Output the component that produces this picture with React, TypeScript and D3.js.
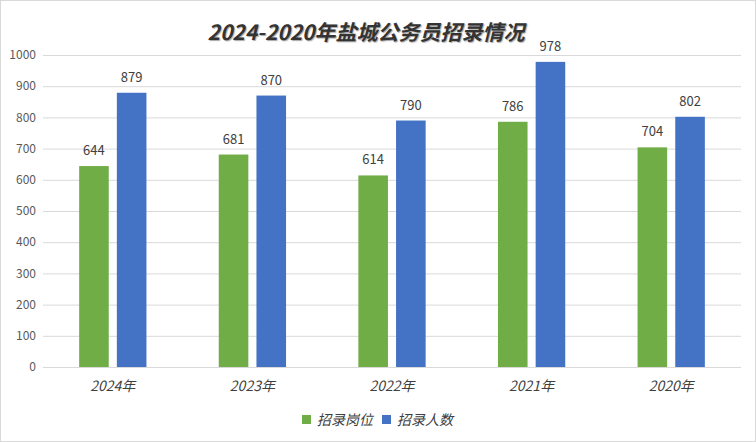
import React from "react";
import * as d3 from "d3";

const categories = ["2024年", "2023年", "2022年", "2021年", "2020年"];
const seriesNames = ["招录岗位", "招录人数"];
const posts = [644, 681, 614, 786, 704];
const people = [879, 870, 790, 978, 802];
const yTicks = [0, 100, 200, 300, 400, 500, 600, 700, 800, 900, 1000];
const colors = ["#70AD47", "#4472C4"];
const title = "2024-2020年盐城公务员招录情况";

const W = 756;
const H = 442;
const FONT = "'Noto Sans CJK SC', 'Noto Sans', sans-serif";

export default function App() {
  const left = 43;
  const right = 741;
  const top = 55;
  const bottom = 367;

  const x = d3.scaleBand<string>().domain(categories).range([left, right]).padding(0);
  const bw = x.bandwidth();
  const inner = d3
    .scaleBand<number>()
    .domain([0, 1])
    .range([bw / 2 - bw * 0.241, bw / 2 + bw * 0.241])
    .paddingInner(0.215)
    .paddingOuter(0);
  const y = d3.scaleLinear().domain([0, 1000]).range([bottom, top]);
  const series = [posts, people];

  return (
    <div style={{ position: "fixed", left: 0, top: 0 }}>
      <svg width={W} height={H} style={{ display: "block", background: "#fff" }}>
        <rect x={0.5} y={0.5} width={W - 1} height={H - 1} fill="#fff" stroke="#d9d9d9" />
        <text
          x={366}
          y={40}
          textAnchor="middle"
          fontFamily={FONT}
          fontSize={21}
          fontWeight="bold"
          fontStyle="italic"
          fill="#333"
          style={{ textShadow: "1px 1px 1px rgba(0,0,0,0.35)" }}
        >
          {title}
        </text>
        {yTicks.map((t) => (
          <g key={t}>
            <line x1={left} x2={right} y1={y(t) + 0.5} y2={y(t) + 0.5} stroke="#d9d9d9" strokeWidth={1} />
            <text
              x={36}
              y={y(t)}
              dy="0.35em"
              textAnchor="end"
              fontFamily={FONT}
              fontSize={12}
              fill="#595959"
            >
              {t}
            </text>
          </g>
        ))}
        {categories.map((c, i) => (
          <g key={c} transform={`translate(${x(c)},0)`}>
            {series.map((s, j) => (
              <g key={j}>
                <rect
                  x={inner(j)}
                  y={y(s[i])}
                  width={inner.bandwidth()}
                  height={bottom - y(s[i])}
                  fill={colors[j]}
                />
                <text
                  x={(inner(j) as number) + inner.bandwidth() / 2}
                  y={y(s[i]) - 11}
                  textAnchor="middle"
                  fontFamily={FONT}
                  fontSize={13}
                  fill="#404040"
                >
                  {s[i]}
                </text>
              </g>
            ))}
            <text
              x={bw / 2}
              y={391}
              textAnchor="middle"
              fontFamily={FONT}
              fontSize={14}
              fontStyle="italic"
              fill="#404040"
            >
              {c}
            </text>
          </g>
        ))}
        <line x1={left} x2={right} y1={bottom + 0.5} y2={bottom + 0.5} stroke="#d9d9d9" />
        {seriesNames.map((n, j) => {
          const lx = j === 0 ? 302 : 382;
          return (
            <g key={n}>
              <rect x={lx} y={415} width={9} height={9} fill={colors[j]} />
              <text
                x={lx + 15}
                y={425}
                fontFamily={FONT}
                fontSize={14}
                fontStyle="italic"
                fill="#404040"
              >
                {n}
              </text>
            </g>
          );
        })}
      </svg>
    </div>
  );
}
